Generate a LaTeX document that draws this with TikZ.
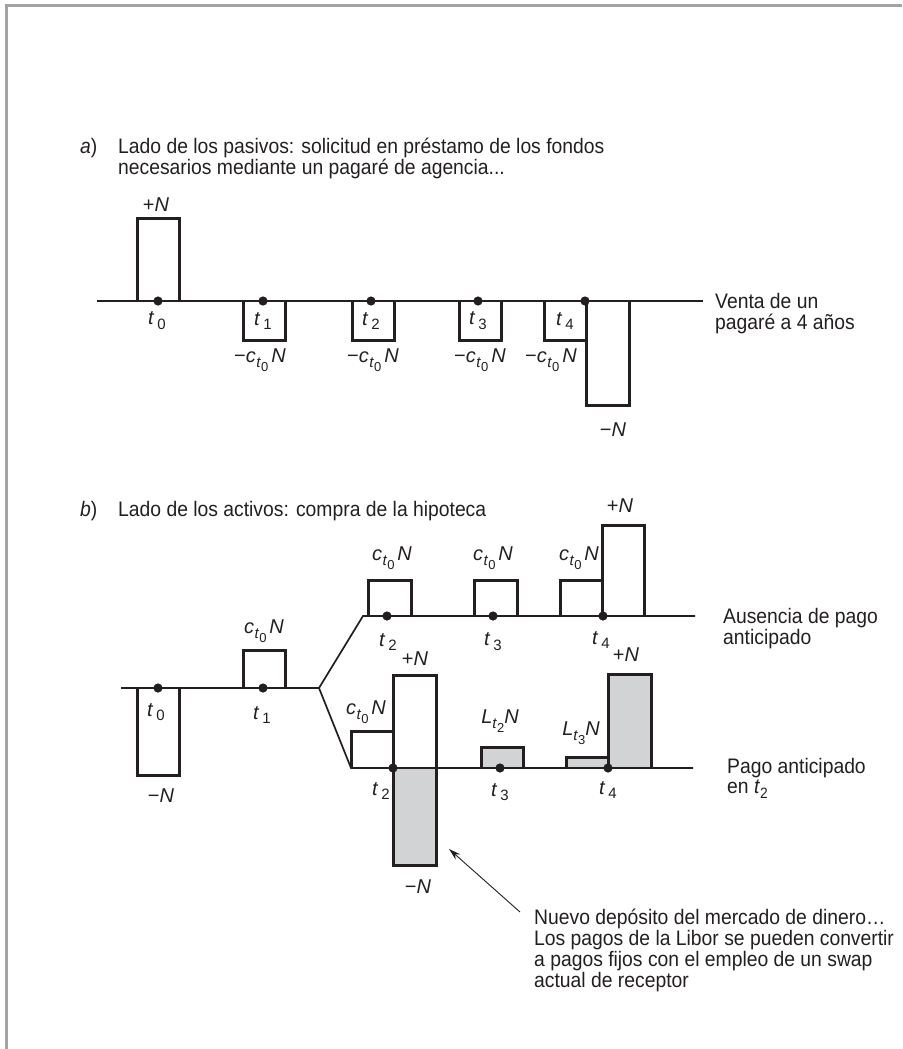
\documentclass[tikz,border=0pt]{standalone}
\usepackage{fontspec}
\setmainfont{Liberation Sans}[FakeStretch=0.92]
\newfontfamily\labfont{Liberation Sans}
\usetikzlibrary{arrows.meta}
\definecolor{ink}{HTML}{231F20}
\definecolor{fillgray}{HTML}{D1D3D4}
\definecolor{framegray}{HTML}{A3A3A3}
\newcommand{\sa}[1]{\raisebox{-4.8pt}{\fontsize{15}{16}\selectfont #1}}
\newcommand{\sbb}[1]{\raisebox{-3.8pt}{\fontsize{13}{14}\selectfont #1}}
\newcommand{\stxt}[1]{\raisebox{-5pt}{\fontsize{15}{16}\selectfont #1}}
\newcommand{\mlines}[1]{\begin{tabular}[t]{@{}l@{}}#1\end{tabular}}
\newcommand{\tl}[1]{\textit{t}\hspace{3pt}\sa{#1}}
\newcommand{\cN}{\textit{c}\hspace{0.5pt}\sa{\textit{t}\sbb{0}}\hspace{3pt}\textit{N}}
\newcommand{\LN}[1]{\textit{L}\sa{\textit{t}\sbb{#1}}\textit{N}}
\begin{document}
\begin{tikzpicture}[x=1pt,y=-1pt,
  bar/.style={draw=ink, line width=3pt},
  axisline/.style={draw=ink, line width=1.7pt},
  lab/.style={inner sep=0pt, text=ink, font=\labfont\fontsize{20}{21}\selectfont},
  body/.style={inner sep=0pt, anchor=base west, text=ink, font=\fontsize{21}{20}\selectfont},
  note/.style={-{Stealth[length=12pt,width=7pt]}, draw=ink, line width=0.9pt}]
\useasboundingbox (0,0) rectangle (902,1049);
% frame
\draw[framegray, line width=3pt] (902,6) -- (6,6) -- (6,1049);

% ---------------- part a ----------------
\node[body] (alab) at (80,153) {\textit{a})};
\node[body] (atxt) at (118,153) {\mlines{Lado de los pasivos: solicitud en préstamo de los fondos\\ necesarios mediante un pagaré de agencia...}};

\draw[bar] (137,301) |- (179,218) -- (179,301);
\draw[bar] (243,301) |- (285,340) -- (285,301);
\draw[bar] (352,301) |- (394,340) -- (394,301);
\draw[bar] (459,301) |- (501,340) -- (501,301);
\draw[bar] (544,301) |- (586,340);
\draw[bar] (586,301) |- (629,405) -- (629,301);
\draw[axisline] (97,301) -- (703,301);
\foreach \x in {158,263,371,478,585} \fill[ink] (\x,301) circle[radius=4.6pt];

\node[lab] (ap) at (156,205) {+\textit{N}};
\node[lab] (at0) at (157,321) {\tl{0}};
\node[lab] (at1) at (263,321) {\tl{1}};
\node[lab] (at2) at (371,321) {\tl{2}};
\node[lab] (at3) at (478,321) {\tl{3}};
\node[lab] (at4) at (565,321) {\tl{4}};
\node[lab] (ac1) at (260,360) {−\cN};
\node[lab] (ac2) at (373,360) {−\cN};
\node[lab] (ac3) at (480,360) {−\cN};
\node[lab] (ac4) at (551,360) {−\cN};
\node[lab] (am) at (613,430) {−\textit{N}};
\node[body] (venta) at (715,308) {\mlines{Venta de un\\ pagaré a 4 años}};

% ---------------- part b ----------------
\node[body] (blab) at (80,516) {\textit{b})};
\node[body] (btxt) at (118,516) {Lado de los activos: compra de la hipoteca};

% gray fills
\fill[fillgray] (393,768) rectangle (436,865);
\filldraw[bar, fill=fillgray] (481,768) |- (523,747) -- (523,768);
\filldraw[bar, fill=fillgray] (566,768) |- (608,757) -- (608,768);
\filldraw[bar, fill=fillgray] (608,768) |- (651,674) -- (651,768);

% trunk
\draw[bar] (137,688) |- (179,775) -- (179,688);
\draw[bar] (243,688) |- (285,650) -- (285,688);
% upper branch
\draw[bar] (368,616) |- (411,580) -- (411,616);
\draw[bar] (474,616) |- (517,580) -- (517,616);
\draw[bar] (560,616) |- (602,580);
\draw[bar] (602,616) |- (644,525) -- (644,616);
% lower branch
\draw[bar] (351,768) |- (393,731);
\draw[bar] (393,865) -- (393,675) -- (436,675) -- (436,865) -- cycle;

\coordinate (branch) at (319,688);
\coordinate (upc) at (363,616);
\coordinate (loc) at (351,768);
\draw[axisline] (121,688) -- (branch) -- (upc) -- (695,616);
\draw[axisline] (branch) -- (loc) -- (693,768);

\foreach \x/\y in {158/688,263/688,387/616,493/616,603/616,393/768,500/768,608/768}
  \fill[ink] (\x,\y) circle[radius=4.6pt];

\node[lab] (bt0) at (156,712) {\tl{0}};
\node[lab] (bt1) at (262,715) {\tl{1}};
\node[lab] (bm0) at (161,796) {−\textit{N}};
\node[lab] (bc1) at (264,631) {\cN};

\node[lab] (uc2) at (392,558) {\cN};
\node[lab] (uc3) at (493,558) {\cN};
\node[lab] (uc4) at (579,558) {\cN};
\node[lab] (up4) at (620,506) {+\textit{N}};
\node[lab] (ut2) at (388,642) {\tl{2}};
\node[lab] (ut3) at (493,642) {\tl{3}};
\node[lab] (ut4) at (601,640) {\tl{4}};

\node[lab] (lc2) at (366,712) {\cN};
\node[lab] (lp2) at (415,659) {+\textit{N}};
\node[lab] (lm2) at (418,887) {−\textit{N}};
\node[lab] (lt2) at (381,791) {\tl{2}};
\node[lab] (lL2) at (500,721) {\LN{2}};
\node[lab] (lt3) at (500,792) {\tl{3}};
\node[lab] (lL3) at (581,733) {\LN{3}};
\node[lab] (lp4) at (626,655) {+\textit{N}};
\node[lab] (lt4) at (608,790) {\tl{4}};

\node[body] (aus) at (723,623) {\mlines{Ausencia de pago\\ anticipado}};
\node[body] (pago) at (727,773) {\mlines{Pago anticipado\\ en \textit{t}\stxt{2}}};

\node[body] (ann) at (534,924) {\mlines{Nuevo depósito del mercado de dinero…\\ Los pagos de la Libor se pueden convertir\\ a pagos fijos con el empleo de un swap\\ actual de receptor}};
\coordinate (arrtail) at (520,912);
\coordinate (arrtip) at (449,849);
\draw[note] (arrtail) -- (arrtip);
\end{tikzpicture}
\end{document}
